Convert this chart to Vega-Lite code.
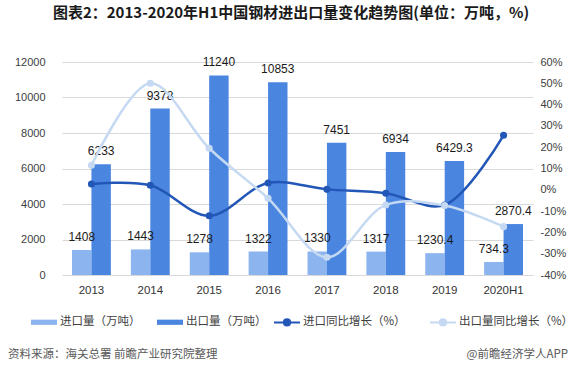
{
  "$schema": "https://vega.github.io/schema/vega-lite/v6.json",
  "background": "white",
  "padding": {"left": 8, "top": 6, "right": 4, "bottom": 2},
  "config": {
    "view": {"stroke": null},
    "font": "Noto Sans CJK SC",
    "axis": {"labelFont": "Liberation Sans", "labelFontSize": 11, "labelColor": "#404040", "domain": false, "ticks": false, "title": null, "gridColor": "#d9d9d9", "gridWidth": 1},
    "legend": {"labelFontSize": 11.5, "labelColor": "#404040", "labelFont": "Noto Sans CJK SC", "columnPadding": 15, "labelOffset": 2, "symbolSize": 676}
  },
  "title": {"text": "图表2：2013-2020年H1中国钢材进出口量变化趋势图(单位：万吨，%)", "fontSize": 15, "fontWeight": "bold", "font": "Noto Sans CJK SC", "color": "#1a1a1a", "anchor": "middle", "offset": 35},
  "datasets": {
    "bars": [
      {"year": "2013", "series": "进口量（万吨）", "value": 1408},
      {"year": "2013", "series": "出口量（万吨）", "value": 6233},
      {"year": "2014", "series": "进口量（万吨）", "value": 1443},
      {"year": "2014", "series": "出口量（万吨）", "value": 9378},
      {"year": "2015", "series": "进口量（万吨）", "value": 1278},
      {"year": "2015", "series": "出口量（万吨）", "value": 11240},
      {"year": "2016", "series": "进口量（万吨）", "value": 1322},
      {"year": "2016", "series": "出口量（万吨）", "value": 10853},
      {"year": "2017", "series": "进口量（万吨）", "value": 1330},
      {"year": "2017", "series": "出口量（万吨）", "value": 7451},
      {"year": "2018", "series": "进口量（万吨）", "value": 1317},
      {"year": "2018", "series": "出口量（万吨）", "value": 6934},
      {"year": "2019", "series": "进口量（万吨）", "value": 1230.4},
      {"year": "2019", "series": "出口量（万吨）", "value": 6429.3},
      {"year": "2020H1", "series": "进口量（万吨）", "value": 734.3},
      {"year": "2020H1", "series": "出口量（万吨）", "value": 2870.4}
    ],
    "lines": [
      {"year": "2013", "series": "进口同比增长（%）", "growth": 2.7},
      {"year": "2014", "series": "进口同比增长（%）", "growth": 2.1},
      {"year": "2015", "series": "进口同比增长（%）", "growth": -12.2},
      {"year": "2016", "series": "进口同比增长（%）", "growth": 3.2},
      {"year": "2017", "series": "进口同比增长（%）", "growth": 0.2},
      {"year": "2018", "series": "进口同比增长（%）", "growth": -1.6},
      {"year": "2019", "series": "进口同比增长（%）", "growth": -7.1},
      {"year": "2020H1", "series": "进口同比增长（%）", "growth": 25.6},
      {"year": "2013", "series": "出口量同比增长（%）", "growth": 11.5},
      {"year": "2014", "series": "出口量同比增长（%）", "growth": 50.0},
      {"year": "2015", "series": "出口量同比增长（%）", "growth": 19.5},
      {"year": "2016", "series": "出口量同比增长（%）", "growth": -4.0},
      {"year": "2017", "series": "出口量同比增长（%）", "growth": -31.7},
      {"year": "2018", "series": "出口量同比增长（%）", "growth": -7.1},
      {"year": "2019", "series": "出口量同比增长（%）", "growth": -7.4},
      {"year": "2020H1", "series": "出口量同比增长（%）", "growth": -17.3}
    ],
    "notes": [
      {"note": "资料来源：海关总署 前瞻产业研究院整理", "pos": 0},
      {"note": "@前瞻经济学人APP", "pos": 1}
    ]
  },
  "spacing": 19,
  "resolve": {"legend": {"fill": "independent", "color": "independent"}},
  "vconcat": [
    {
      "width": 471,
      "height": 213,
      "layer": [
        {
          "data": {"name": "bars"},
          "encoding": {
            "x": {"field": "year", "type": "nominal", "sort": null, "scale": {"paddingInner": 0.34, "paddingOuter": 0.17}, "axis": {"labelAngle": 0, "labelPadding": 9, "labelFontSize": 11.5, "labelColor": "#333333"}},
            "xOffset": {"field": "series", "type": "nominal", "sort": ["进口量（万吨）", "出口量（万吨）"]},
            "y": {"field": "value", "type": "quantitative", "stack": null, "scale": {"domain": [0, 12000]}, "axis": {"orient": "left", "grid": true, "values": [0, 2000, 4000, 6000, 8000, 10000, 12000], "format": "d", "labelPadding": 17}}
          },
          "layer": [
            {
              "mark": {"type": "bar"},
              "encoding": {
                "fill": {
                  "field": "series", "type": "nominal", "sort": ["进口量（万吨）", "出口量（万吨）"],
                  "scale": {"domain": ["进口量（万吨）", "出口量（万吨）"], "range": ["#8cb4ee", "#4a86e0"]},
                  "legend": {"orient": "none", "legendX": -32, "legendY": 246, "direction": "horizontal", "title": null, "symbolType": "M-1,-0.2H1V0.2H-1Z"}
                }
              }
            },
            {
              "mark": {"type": "text", "baseline": "bottom", "dy": -6, "fontSize": 12, "font": "Liberation Sans", "color": "#1a1a1a"},
              "encoding": {"text": {"field": "value", "type": "nominal"}}
            }
          ]
        },
        {
          "data": {"name": "lines"},
          "mark": {"type": "line", "interpolate": "catmull-rom", "strokeWidth": 2.5, "point": {"filled": true, "size": 50}},
          "encoding": {
            "x": {"field": "year", "type": "nominal", "sort": null},
            "y": {"field": "growth", "type": "quantitative", "scale": {"domain": [-40, 60]}, "axis": {"orient": "right", "grid": false, "values": [-40, -30, -20, -10, 0, 10, 20, 30, 40, 50, 60], "labelExpr": "datum.value + '%'", "labelPadding": 7}},
            "color": {
              "field": "series", "type": "nominal",
              "scale": {"domain": ["进口同比增长（%）", "出口量同比增长（%）"], "range": ["#2257b7", "#c5d9f2"]},
              "legend": {"orient": "none", "legendX": 211, "legendY": 246, "direction": "horizontal", "title": null, "columnPadding": 20, "symbolType": "M-1,0H1M0.24,0A0.24,0.24,0,1,1,-0.24,0A0.24,0.24,0,1,1,0.24,0Z", "symbolStrokeWidth": 2}
            }
          }
        }
      ],
      "resolve": {"scale": {"y": "independent"}}
    },
    {
      "width": 506,
      "height": 12,
      "data": {"name": "notes"},
      "layer": [
        {
          "transform": [{"filter": "datum.pos === 0"}],
          "mark": {"type": "text", "align": "left", "dx": -54, "fontSize": 11.5, "color": "#595959"},
          "encoding": {"x": {"field": "pos", "type": "quantitative", "scale": {"domain": [0, 1]}, "axis": null}, "text": {"field": "note"}}
        },
        {
          "transform": [{"filter": "datum.pos === 1"}],
          "mark": {"type": "text", "align": "right", "fontSize": 11.5, "color": "#595959"},
          "encoding": {"x": {"field": "pos", "type": "quantitative", "scale": {"domain": [0, 1]}, "axis": null}, "text": {"field": "note"}}
        }
      ]
    }
  ]
}
